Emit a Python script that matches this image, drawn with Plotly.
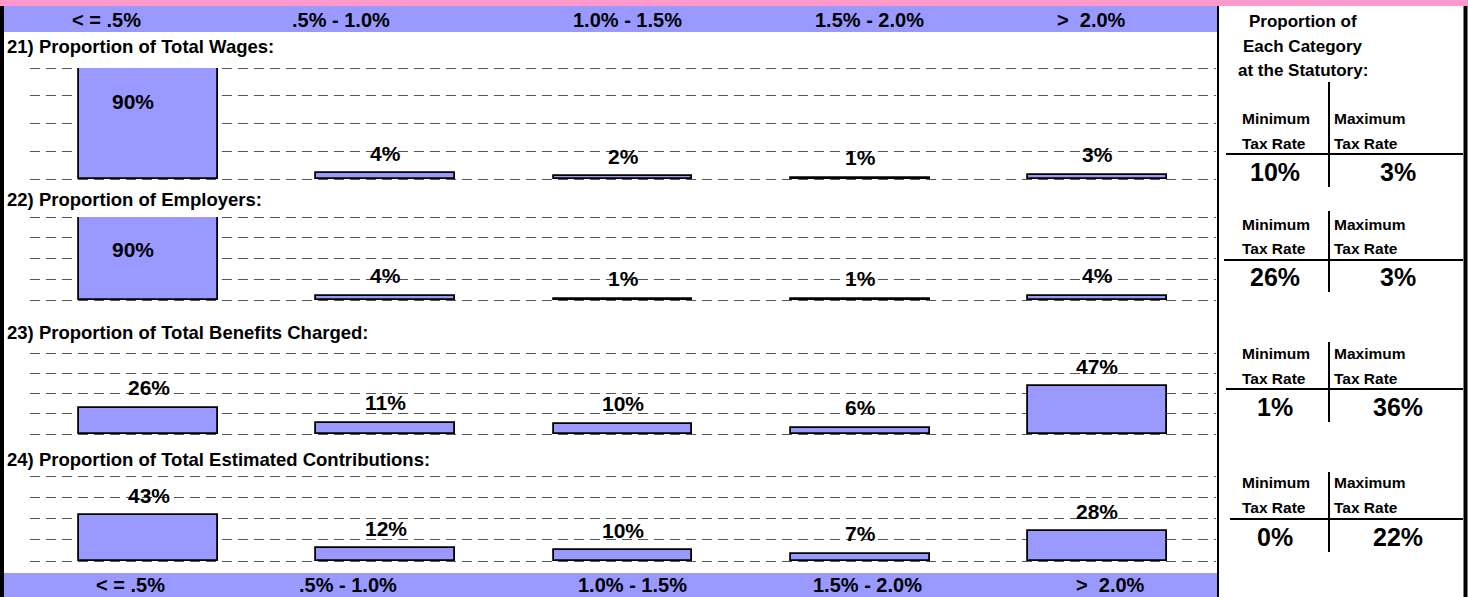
import plotly.graph_objects as go

W, H = 1468, 597

# categories of tax-rate ranges
categories = ["< = .5%", ".5% - 1.0%", "1.0% - 1.5%", "1.5% - 2.0%", ">  2.0%"]

panel_titles = [
    "21) Proportion of Total Wages:",
    "22) Proportion of Employers:",
    "23) Proportion of Total Benefits Charged:",
    "24) Proportion of Total Estimated Contributions:",
]

wages = [0.90, 0.04, 0.02, 0.01, 0.03]
employers = [0.90, 0.04, 0.01, 0.01, 0.04]
benefits = [0.26, 0.11, 0.10, 0.06, 0.47]
contributions = [0.43, 0.12, 0.10, 0.07, 0.28]

# proportion at statutory min / max tax rate
min_rate_share = ["10%", "26%", "1%", "0%"]
max_rate_share = ["3%", "3%", "36%", "22%"]

series = [wages, employers, benefits, contributions]
YMAX = 0.8

BLUE = "#9999FF"
PINK = "#FF99CC"
FONT = "Liberation Sans"


def px(x):
    return x / W


def py(y):
    return 1 - y / H


def paper_text(txt, x, y, size, xanchor="center"):
    return dict(x=px(x), y=py(y), xref="paper", yref="paper", showarrow=False,
                xanchor=xanchor, yanchor="middle", text=f"<b>{txt}</b>",
                font=dict(family=FONT, size=size, color="black"))


# panel layout in pixels (top, bottom) and title position
panel_px = [(68, 179), (217, 300), (353, 434), (476, 561)]
title_px = [46, 200, 332, 459]
x_px = (30, 1216)
PAD = 3  # px of padding so edge gridlines get drawn

fig = go.Figure()
annotations = []
shapes = []

for i, vals in enumerate(series):
    n = "" if i == 0 else str(i + 1)
    top, bot = panel_px[i]
    per_px = YMAX / (bot - top)
    fig.add_trace(go.Bar(
        x=list(range(len(categories))),
        y=vals,
        width=0.585,
        marker=dict(color=BLUE, line=dict(color="black", width=1.8)),
        xaxis="x" + n, yaxis="y" + n,
        showlegend=False,
        hoverinfo="skip",
    ))
    fig.layout["xaxis" + n] = dict(
        domain=[px(x_px[0]), px(x_px[1])], range=[-0.5, len(categories) - 0.5],
        visible=False, anchor="y" + n,
    )
    fig.layout["yaxis" + n] = dict(
        domain=[py(bot + PAD), py(top - PAD)],
        range=[-PAD * per_px, YMAX + PAD * per_px], tickvals=[0, 0.2, 0.4, 0.6, 0.8],
        showticklabels=False, zeroline=False, showline=False,
        showgrid=True, gridcolor="#555555", gridwidth=1, griddash="10px,6px",
        anchor="x" + n,
    )
    # value labels
    for j, v in enumerate(vals):
        clipped = v > YMAX
        annotations.append(dict(
            x=j, y=min(v, YMAX), xref="x" + n, yref="y" + n,
            text=f"<b>{round(v * 100)}%</b>", showarrow=False,
            xanchor="center", yanchor="middle",
            yshift=-33 if clipped else 20, xshift=-16 if clipped else 0,
            font=dict(family=FONT, size=21, color="black"),
        ))
    annotations.append(paper_text(panel_titles[i], 5, title_px[i], 18.5, xanchor="left"))

# clip the bar area so the clipped 90% bars stop at the panel top
for i in range(len(series)):
    top, bot = panel_px[i]
    shapes.append(dict(type="rect", xref="paper", yref="paper",
                       x0=px(x_px[0]), x1=px(x_px[1]), y0=py(top), y1=py(top - PAD),
                       fillcolor="white", line_width=0, layer="above"))

# header / footer bands
shapes += [
    dict(type="rect", xref="paper", yref="paper", x0=0, x1=1, y0=py(6), y1=1,
         fillcolor=PINK, line_width=0, layer="below"),
    dict(type="rect", xref="paper", yref="paper", x0=px(3), x1=px(1217), y0=py(32), y1=py(6),
         fillcolor=BLUE, line_width=0, layer="below"),
    dict(type="rect", xref="paper", yref="paper", x0=px(3), x1=px(1217), y0=0, y1=py(573),
         fillcolor=BLUE, line_width=0, layer="below"),
    # borders
    dict(type="line", xref="paper", yref="paper", x0=px(2), x1=px(2), y0=0, y1=py(6),
         line=dict(color="black", width=4)),
    dict(type="line", xref="paper", yref="paper", x0=px(1218), x1=px(1218), y0=0, y1=py(6),
         line=dict(color="black", width=2)),
    dict(type="line", xref="paper", yref="paper", x0=px(1465.5), x1=px(1465.5), y0=0, y1=py(6),
         line=dict(color="black", width=4)),
]

top_label_px = [106, 341, 627, 869, 1091]
bot_label_px = [130, 348, 632, 868, 1110]
for lab, xt, xb in zip(categories, top_label_px, bot_label_px):
    annotations.append(paper_text(lab, xt, 20, 20))
    annotations.append(paper_text(lab, xb, 585, 20))

# right side panel
for txt, y in zip(["Proportion of", "Each Category", "at the Statutory:"], [21, 46, 70]):
    annotations.append(paper_text(txt, 1303, y, 17))

# (div_top, div_bot, min_y, tax_y, hline_y, val_y, hline_x0)
blocks_px = [
    (82, 187, 118, 144, 154, 172, 1226),
    (211, 292, 225, 248, 260, 277, 1224),
    (342, 422, 353, 378, 389, 407, 1226),
    (472, 552, 483, 507, 519, 537, 1230),
]
for (dt, db, ym, yt, yh, yv, hx0), mn, mx in zip(blocks_px, min_rate_share, max_rate_share):
    shapes.append(dict(type="line", xref="paper", yref="paper", x0=px(1329), x1=px(1329),
                       y0=py(db), y1=py(dt), line=dict(color="black", width=2)))
    shapes.append(dict(type="line", xref="paper", yref="paper", x0=px(hx0), x1=px(1463),
                       y0=py(yh), y1=py(yh), line=dict(color="black", width=2)))
    for txt, x, y in [("Minimum", 1240, ym), ("Tax Rate", 1240, yt),
                      ("Maximum", 1332, ym), ("Tax Rate", 1332, yt)]:
        annotations.append(paper_text(txt, x, y, 15.5, xanchor="left"))
    annotations.append(paper_text(mn, 1275, yv, 25))
    annotations.append(paper_text(mx, 1398, yv, 25))

fig.update_layout(
    width=W, height=H,
    margin=dict(l=0, r=0, t=0, b=0),
    plot_bgcolor="rgba(0,0,0,0)",
    paper_bgcolor="white",
    bargap=0,
    annotations=annotations,
    shapes=shapes,
    font=dict(family=FONT),
)

fig.write_html("out.html", config={"displayModeBar": False},
               post_script="document.body.style.margin='0';")
